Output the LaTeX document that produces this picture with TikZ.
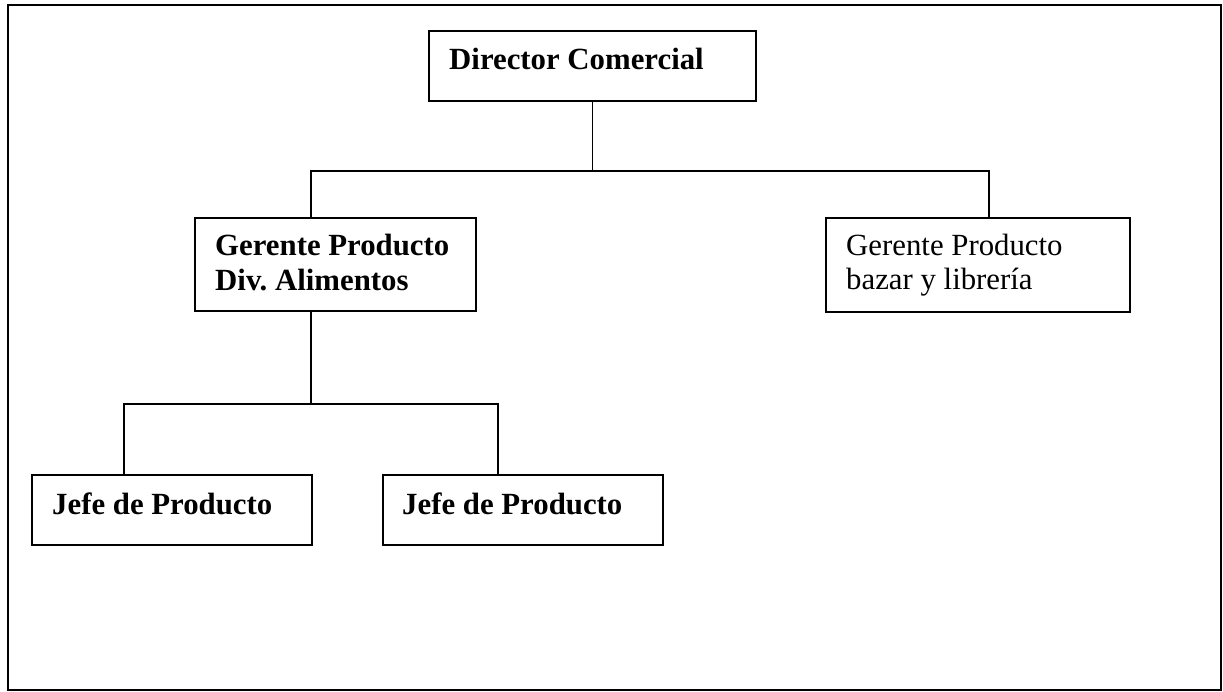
\documentclass[tikz,border=0pt]{standalone}
\usepackage{fontspec}
\setmainfont{Liberation Serif}
\frenchspacing
\begin{document}
\begin{tikzpicture}[x=1pt,y=-1pt,
  box/.style={draw=black,line width=1.8pt,rectangle,inner sep=0pt,anchor=north west,fill=white},
  conn/.style={draw=black,line width=1.8pt},
  lbl/.style={inner sep=0pt,anchor=base west,align=left,font=\fontsize{30.8pt}{35pt}\selectfont\bfseries},
  lblr/.style={inner sep=0pt,anchor=base west,align=left,font=\fontsize{30.8pt}{34pt}\selectfont}]
\useasboundingbox (0,0) rectangle (1223,692);
\draw[line width=2pt] (8,5) rectangle (1220.5,690);
% boxes
\node[box,minimum width=327pt,minimum height=70pt] (dir) at (428,30) {};
\node[box,minimum width=281pt,minimum height=93pt] (gerA) at (194,217) {};
\node[box,minimum width=304pt,minimum height=94pt] (gerB) at (825,217) {};
\node[box,minimum width=280pt,minimum height=70pt] (jefe1) at (31,474) {};
\node[box,minimum width=280pt,minimum height=70pt] (jefe2) at (382,474) {};
% texts (base anchor = baseline of last line)
\node[lbl] (dirT) at (449,70) {Director Comercial};
\node[lbl] (gerAT) at (215,291) {Gerente Producto\\Div. Alimentos};
\node[lblr] (gerBT) at (846,290) {Gerente Producto\\bazar y librería};
\node[lbl] (jefe1T) at (52,514) {Jefe de Producto};
\node[lbl] (jefe2T) at (402,514) {Jefe de Producto};
% connectors
\coordinate (j1) at (311,171);
\coordinate (j2) at (989,171);
\coordinate (k0) at (311,404);
\coordinate (k1) at (124,404);
\coordinate (k2) at (498,404);
\draw[conn] (dir.south) -- (dir.south |- j1);
\draw[conn] (j1 |- gerA.north) -- (j1) -- (j2) -- (j2 |- gerB.north);
\draw[conn] (k0 |- gerA.south) -- (k0);
\draw[conn] (k1 |- jefe1.north) -- (k1) -- (k2) -- (k2 |- jefe2.north);
\end{tikzpicture}
\end{document}
